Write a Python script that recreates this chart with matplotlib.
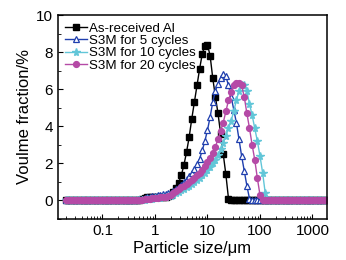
import numpy as np
import matplotlib
matplotlib.use("Agg")
import matplotlib.pyplot as plt
from matplotlib.ticker import MultipleLocator, FixedLocator, FixedFormatter

plt.rcParams['font.family'] = ['Liberation Sans', 'DejaVu Sans']

# size classes (um), 20 per decade from 0.02 um
sizes = np.logspace(np.log10(0.02), 3.25, 100)

labels = ["As-received Al", "S3M for 5 cycles", "S3M for 10 cycles", "S3M for 20 cycles"]

as_received = ([0.0] * 28 +
               [0.05, 0.10, 0.13, 0.16, 0.18, 0.20, 0.20, 0.20, 0.20, 0.20, 0.20, 0.22,
                0.30, 0.45, 0.65, 0.95, 1.35, 1.90, 2.60, 3.40, 4.40, 5.30,
                6.20, 7.10, 7.90, 8.35, 8.40, 7.80, 6.60, 5.60, 4.70, 3.60,
                2.50, 1.40, 0.10] +
               [0.0] * 37)

s3m_5 = ([0.0] * 27 +
         [0.03, 0.07, 0.10, 0.13, 0.17, 0.20, 0.23, 0.26, 0.28, 0.30, 0.33, 0.36, 0.39,
          0.42, 0.50, 0.60, 0.72, 0.85, 1.00, 1.15, 1.30, 1.50, 1.70,
          1.95, 2.25, 2.70, 3.20, 3.80, 4.50, 5.30, 5.90, 6.30, 6.60,
          6.80, 6.70, 6.20, 5.60, 4.90, 4.20, 3.30, 2.40, 1.60, 0.80,
          0.10] +
         [0.0] * 29)

s3m_10 = ([0.0] * 28 +
          [0.02, 0.04, 0.05, 0.07, 0.08, 0.10, 0.11, 0.13, 0.15, 0.17, 0.19, 0.22,
           0.25, 0.30, 0.38, 0.45, 0.55, 0.62, 0.70, 0.80, 0.90, 1.00,
           1.10, 1.20, 1.35, 1.50, 1.65, 1.80, 2.00, 2.20, 2.45, 2.75,
           3.10, 3.50, 3.90, 4.30, 4.80, 5.40, 5.90, 6.20, 6.25, 5.90,
           5.20, 4.60, 3.90, 3.20, 2.40, 1.50, 0.40, 0.05] +
          [0.0] * 22)

s3m_20 = ([0.0] * 28 +
          [0.03, 0.05, 0.07, 0.08, 0.10, 0.11, 0.13, 0.15, 0.17, 0.19, 0.21, 0.25,
           0.30, 0.38, 0.50, 0.60, 0.70, 0.78, 0.88, 1.00, 1.10, 1.22,
           1.35, 1.50, 1.65, 1.85, 2.05, 2.30, 2.55, 2.90, 3.30, 3.75,
           4.20, 4.80, 5.40, 5.85, 6.20, 6.35, 6.35, 6.20, 5.60, 4.70,
           3.90, 3.00, 2.20, 1.20, 0.30, 0.05] +
          [0.0] * 24)

xticks = [0.1, 1, 10, 100, 1000]
xticklabels = ["0.1", "1", "10", "100", "1000"]
yticks = [0, 2, 4, 6, 8, 10]

fig = plt.figure(figsize=(3.46, 2.60), dpi=100)
ax = fig.add_axes([0.1676, 0.1577, 0.7774, 0.7846])

ax.plot(sizes, as_received, color='black', lw=1.0, marker='s', ms=3.8,
        mec='black', mfc='black', label=labels[0])
ax.plot(sizes, s3m_5, color='#1f3fae', lw=1.0, marker='^', ms=4.4,
        mec='#1f3fae', mfc='white', mew=0.9, label=labels[1])
ax.plot(sizes, s3m_10, color='#62c6d8', lw=1.0, marker='*', ms=5.8,
        mec='#62c6d8', mfc='#62c6d8', label=labels[2])
ax.plot(sizes, s3m_20, color='#b54aa6', lw=1.0, marker='o', ms=4.2,
        mec='#b54aa6', mfc='#b54aa6', label=labels[3])

ax.set_xscale('log')
ax.set_xlim(0.0142, 1890)
ax.set_ylim(-1, 10)
ax.xaxis.set_major_locator(FixedLocator(xticks))
ax.xaxis.set_major_formatter(FixedFormatter(xticklabels))
ax.set_yticks(yticks)
ax.yaxis.set_minor_locator(MultipleLocator(1))
ax.tick_params(axis='both', which='both', direction='in', top=False, right=False,
               labelsize=11)
ax.tick_params(which='major', length=3.5, width=0.8)
ax.tick_params(which='minor', length=2, width=0.6)

ax.set_xlabel('Particle size/μm', fontsize=12, labelpad=2)
ax.set_ylabel('Voulme fraction/%', fontsize=12, labelpad=3)

for s in ax.spines.values():
    s.set_linewidth(1.1)

ax.legend(loc='upper left', frameon=False, fontsize=9.6, handlelength=1.6,
          handletextpad=0.15, labelspacing=0.0, borderaxespad=0.35,
          borderpad=0.2)

fig.savefig('out.png', dpi=100)
